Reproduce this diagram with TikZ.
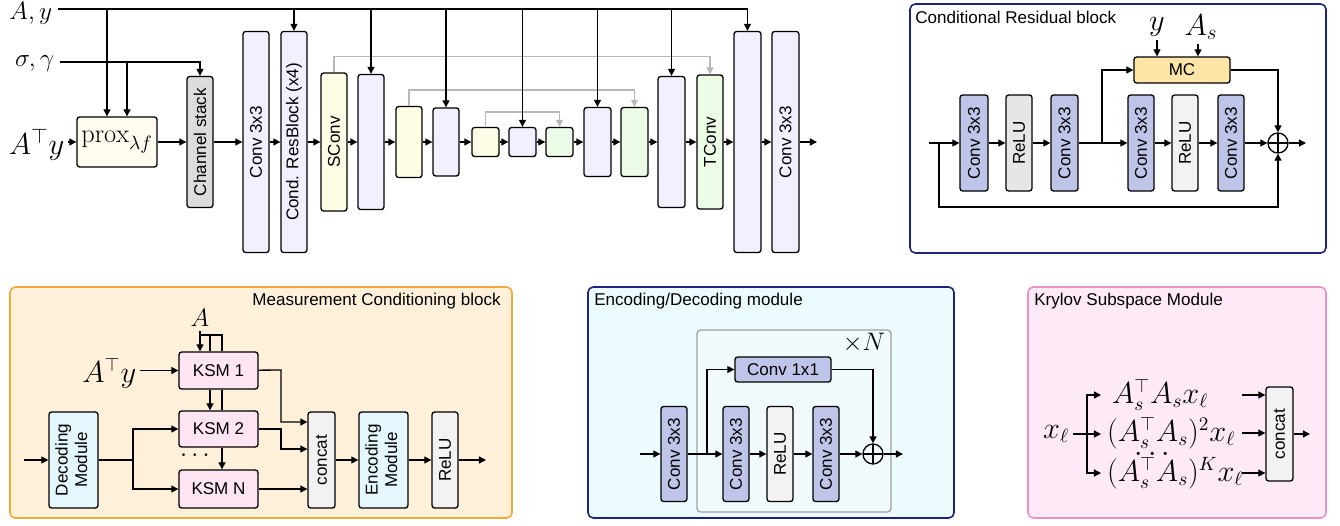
\documentclass[tikz,border=0pt]{standalone}
\usepackage{fontspec}
\setsansfont{Liberation Sans}
\usepackage{amsmath}
\usepackage{graphicx}
\usetikzlibrary{arrows.meta}

\definecolor{lav}{HTML}{F0F0FE}
\definecolor{cream}{HTML}{FDFDE6}
\definecolor{mint}{HTML}{EDFCE6}
\definecolor{proxfill}{HTML}{FFFBEE}
\definecolor{stackfill}{HTML}{DCDCDC}
\definecolor{convblue}{HTML}{BEC5E8}
\definecolor{relugray}{HTML}{E6E6E6}
\definecolor{relulight}{HTML}{F2F2F2}
\definecolor{mcfill}{HTML}{FCE5A6}
\definecolor{mcbg}{HTML}{FFF1D9}
\definecolor{mcedge}{HTML}{F2A93B}
\definecolor{navy}{HTML}{1C2380}
\definecolor{encbg}{HTML}{EBFBFE}
\definecolor{innerbg}{HTML}{F1FBFD}
\definecolor{innergray}{HTML}{A0A0A0}
\definecolor{cyanfill}{HTML}{E4F7FC}
\definecolor{ksmfill}{HTML}{FDE5F3}
\definecolor{krybg}{HTML}{FDEAF6}
\definecolor{kryedge}{HTML}{EE90C6}
\definecolor{skipgray}{HTML}{B8B8B8}

\newcommand{\blkfont}{\sffamily\fontsize{9.7}{11}\selectfont}
\newcommand{\lblfont}{\fontsize{15}{17}\selectfont}
\newcommand{\bigfont}{\fontsize{16.5}{19}\selectfont}
\newcommand{\kryfont}{\fontsize{16}{19}\selectfont}
\newcommand{\rotlabel}[1]{\rotatebox{90}{#1}}
\newcommand{\rottwo}[2]{\rotatebox{90}{\begin{tabular}{@{}c@{}}#1\\#2\end{tabular}}}

\tikzset{
  box/.style={draw, line width=0.75pt, rounded corners=1.5pt, inner sep=0pt, font=\blkfont},
  sz/.style 2 args={minimum width=#1*0.02cm, minimum height=#2*0.02cm},
  arr/.style={line width=0.75pt, -{Triangle[length=4pt,width=4pt]}},
  ln/.style={line width=0.75pt},
  skiparr/.style={line width=0.75pt, draw=skipgray, -{Triangle[length=4pt,width=4pt,fill=skipgray]}},
  panel/.style={line width=0.9pt, rounded corners=3pt, inner sep=0pt},
  mlab/.style={inner sep=2pt, font=\lblfont},
  ttl/.style={inner sep=0pt, font=\blkfont},
  oplus/.style={circle, draw, line width=0.75pt, inner sep=0pt, minimum size=20*0.02cm,
    path picture={\draw[line width=0.75pt] (path picture bounding box.north) -- (path picture bounding box.south)
      (path picture bounding box.west) -- (path picture bounding box.east);}},
}

\begin{document}
\begin{tikzpicture}[x=0.02cm,y=-0.02cm]
\useasboundingbox (0,0) rectangle (1340,525);

% Inputs of the unrolled network
\node[mlab, anchor=east] (ay) at (56,13) {$A,y$};
\node[mlab, anchor=east] (sg) at (58,64) {$\sigma,\gamma$};
\node[mlab, anchor=east, font=\bigfont] (aty) at (68,145) {$A^\top y$};
\coordinate (top) at (58,9);
\coordinate (sgl) at (60,62);

% Main chain
\node[box, fill=proxfill, sz={80}{50}, font=\lblfont] (prox) at (117,142) {$\mathrm{prox}_{\lambda f}$};
\node[box, fill=stackfill, sz={26}{131}] (chs) at (200,142) {\rotlabel{Channel stack}};
\node[box, fill=lav, sz={26}{221}] (cin) at (256,142) {\rotlabel{Conv 3x3}};
\node[box, fill=lav, sz={26}{221}] (resb) at (294,142) {\rotlabel{Cond. ResBlock (x4)}};
\node[box, fill=cream, sz={26}{138}] (sconv) at (334,142) {\rotlabel{SConv}};
\node[box, fill=lav, sz={26}{135}] (enc1) at (371,142) {};
\node[box, fill=cream, sz={26}{71}] (down2) at (409,142) {};
\node[box, fill=lav, sz={26}{68}] (enc2) at (446,142) {};
\node[box, fill=cream, sz={27}{29}] (down3) at (485.5,142) {};
\node[box, fill=lav, sz={27}{29}] (mid) at (522.5,142) {};
\node[box, fill=mint, sz={27}{29}] (up3) at (559.5,142) {};
\node[box, fill=lav, sz={27}{69}] (dec2) at (597.5,142) {};
\node[box, fill=mint, sz={27}{69}] (up2) at (634.5,142) {};
\node[box, fill=lav, sz={27}{131}] (dec1) at (671.5,142) {};
\node[box, fill=mint, sz={26}{134}] (tconv) at (710,142) {\rotlabel{TConv}};
\node[box, fill=lav, sz={27}{221}] (dec0) at (747.5,142) {};
\node[box, fill=lav, sz={27}{221}] (cout) at (785.5,142) {\rotlabel{Conv 3x3}};
\coordinate (out) at (817,142);

% Skip connections (grey, drawn first)
\draw[skiparr] (sconv.north) -- ++(0,-16) -| (tconv.north);
\draw[skiparr] (down2.north) -- ++(0,-16) -| (up2.north);
\draw[skiparr] (down3.north) -- ++(0,-15) -| (up3.north);

\draw[arr] (aty.east |- prox.west) -- (prox.west);
\foreach \a/\b in {prox/chs, chs/cin, cin/resb, resb/sconv, sconv/enc1, enc1/down2, down2/enc2,
  enc2/down3, down3/mid, mid/up3, up3/dec2, dec2/up2, up2/dec1, dec1/tconv, tconv/dec0, dec0/cout}
  \draw[arr] (\a) -- (\b);
\draw[arr] (cout) -- (out);

% A,y and sigma,gamma feeds
\coordinate (pa) at ([xshift=-0.2cm]prox.north);
\coordinate (pb) at ([xshift=0.2cm]prox.north);
\draw[arr] (top) -- (top -| dec0) -- (dec0.north);
\foreach \n in {resb, enc1, enc2, mid, dec2, dec1}
  \draw[arr] (top -| \n) -- (\n.north);
\draw[arr] (top -| pa) -- (pa);
\draw[arr] (sgl) -- (sgl -| chs) -- (chs.north);
\draw[arr] (sgl -| pb) -- (pb);

% Conditional residual block
\node[panel, draw=navy, fill=white, sz={416}{249}] (crb) at (1118,128.5) {};
\node[ttl, anchor=west] at (915,17) {Conditional Residual block};
\node[box, fill=convblue, sz={28}{96}] (rc1) at (974,143) {\rotlabel{Conv 3x3}};
\node[box, fill=relugray, sz={26}{96}] (rr1) at (1019,143) {\rotlabel{ReLU}};
\node[box, fill=convblue, sz={27}{96}] (rc2) at (1064.5,143) {\rotlabel{Conv 3x3}};
\node[box, fill=convblue, sz={26}{96}] (rc3) at (1141,143) {\rotlabel{Conv 3x3}};
\node[box, fill=relulight, sz={26}{96}] (rr2) at (1185,143) {\rotlabel{ReLU}};
\node[box, fill=convblue, sz={26}{96}] (rc4) at (1231,143) {\rotlabel{Conv 3x3}};
\node[box, fill=mcfill, sz={96}{26}] (mc) at (1182,70) {MC};
\node[oplus] (rsum) at (1278,143) {};
\node[mlab, font=\bigfont] (yin) at (1157,27) {$y$};
\node[mlab, font=\bigfont] (asin) at (1201,27) {$A_s$};
\coordinate (rin) at (929,143);
\coordinate (rskip) at (939,143);
\coordinate (rbr) at (1102,143);
\coordinate (rout) at (1306,143);
\draw[arr] (rin) -- (rc1);
\foreach \a/\b in {rc1/rr1, rr1/rc2, rc2/rc3, rc3/rr2, rr2/rc4, rc4/rsum}
  \draw[arr] (\a) -- (\b);
\draw[arr] (rsum) -- (rout);
\draw[arr] (rbr) |- (mc);
\draw[arr] (mc) -| (rsum);
\draw[arr] (rskip) -- ++(0,64) -| (rsum.south);
\draw[arr] (yin) -- (yin |- mc.north);
\draw[arr] ([xshift=-0.06cm]asin.south) -- ([xshift=-0.06cm]asin.south |- mc.north);

% Measurement conditioning block
\node[panel, draw=mcedge, fill=mcbg, sz={502}{231}] (mcb) at (261,402.5) {};
\node[ttl, anchor=east] at (501,301) {Measurement Conditioning block};
\node[box, fill=cyanfill, sz={49}{96}] (decm) at (73.5,460) {\rottwo{Decoding}{Module}};
\node[box, fill=ksmfill, sz={79}{37}] (ksm1) at (218.5,370.5) {KSM 1};
\node[box, fill=ksmfill, sz={79}{36}] (ksm2) at (218.5,429) {KSM 2};
\node[box, fill=ksmfill, sz={79}{38}] (ksmn) at (218.5,489) {KSM N};
\node[box, fill=relulight, sz={27}{96}] (cat) at (321.5,460) {\rotlabel{concat}};
\node[box, fill=cyanfill, sz={49}{96}] (encm) at (383.5,460) {\rottwo{Encoding}{Module}};
\node[box, fill=relulight, sz={26}{96}] (mrelu) at (445,460) {\rotlabel{ReLU}};
\node[mlab, anchor=east, font=\kryfont] (aty2) at (140,373) {$A^\top y$};
\node[mlab] (amat) at (200,318) {$A$};
\node[mlab] (kdots1) at (197,456) {$\cdots$};
\coordinate (ka) at (210,335);
\coordinate (kb) at (222,335);
\coordinate (min) at (24,460);
\coordinate (mbr) at (133,460);
\coordinate (kx) at (281,370);
\coordinate (mout) at (486,460);
\draw[arr] (min) -- (decm);
\draw[ln] (decm) -- (mbr);
\draw[arr] (mbr) |- (ksm2);
\draw[arr] (mbr) |- (ksmn);
\draw[arr] (aty2.east |- ksm1) -- (ksm1);
\draw[arr] (amat) -- (amat |- ksm1.north);
\draw[ln] (amat.south |- kb) -- (kb) -- (kb |- ksm1.north);
\draw[ln] (ka) -- (ka |- ksm1.north);
\draw[arr] (ka |- ksm1.south) -- (ka |- ksm2.north);
\draw[ln] (kb |- ksm1.south) -- (kb |- ksm2.north);
\draw[arr] (kb |- ksm2.south) -- (kb |- ksmn.north);
\draw[arr] (ksm1) -- (kx) |- ([yshift=0.76cm]cat.west);
\draw[arr] (ksm2) -- (kx |- ksm2) |- ([yshift=0.22cm]cat.west);
\draw[arr] (ksmn) -- (ksmn -| cat.west);
\draw[arr] (cat) -- (encm);
\draw[arr] (encm) -- (mrelu);
\draw[arr] (mrelu) -- (mout);

% Encoding / decoding module
\node[panel, draw=navy, fill=encbg, sz={366}{231}] (edb) at (771,402.5) {};
\node[ttl, anchor=west] at (594,301) {Encoding/Decoding module};
\node[draw=innergray, fill=innerbg, line width=0.75pt, rounded corners=2pt, sz={194}{182}] (rep) at (794,421) {};
\node[mlab] (times) at (864,343) {$\times N$};
\node[box, fill=convblue, sz={26}{95}] (ec0) at (674,454) {\rotlabel{Conv 3x3}};
\node[box, fill=convblue, sz={26}{95}] (ec1) at (736,454) {\rotlabel{Conv 3x3}};
\node[box, fill=relulight, sz={26}{95}] (er) at (780,454) {\rotlabel{ReLU}};
\node[box, fill=convblue, sz={26}{95}] (ec2) at (826,454) {\rotlabel{Conv 3x3}};
\node[box, fill=convblue, sz={96}{25}] (e11) at (783,369.5) {Conv 1x1};
\node[oplus] (esum) at (873,454) {};
\coordinate (ein) at (640,454);
\coordinate (ebr) at (707,454);
\coordinate (eout) at (903,454);
\draw[arr] (ein) -- (ec0);
\foreach \a/\b in {ec0/ec1, ec1/er, er/ec2, ec2/esum}
  \draw[arr] (\a) -- (\b);
\draw[arr] (ebr) |- (e11);
\draw[arr] (e11) -| (esum);
\draw[arr] (esum) -- (eout);

% Krylov subspace module
\node[panel, draw=kryedge, fill=krybg, sz={298}{231}] (kry) at (1177,402.5) {};
\node[ttl, anchor=west] at (1034,301) {Krylov Subspace Module};
\node[mlab, font=\kryfont] (xl) at (1056,434) {$x_\ell$};
\node[mlab, anchor=west, font=\kryfont, inner sep=1pt] (kr1) at (1110,395) {$A_s^\top A_s x_\ell$};
\node[mlab, anchor=west, font=\kryfont, inner sep=1pt] (kr2) at (1105,433) {$(A_s^\top A_s)^2 x_\ell$};
\node[mlab, anchor=west, font=\kryfont, inner sep=1pt] (krk) at (1105,473) {$(A_s^\top A_s)^K x_\ell$};
\node[inner sep=0pt, font=\kryfont] (kdots2) at (1155,455) {$\cdots$};
\node[box, fill=relulight, sz={27}{94}] (kcat) at (1279.5,434) {\rotlabel{concat}};
\coordinate (kbr) at (1087,434);
\coordinate (kin) at (1101,434);
\coordinate (kro) at (1242,434);
\coordinate (kout) at (1310,434);
\draw[ln] (xl) -- (kbr);
\draw[arr] (kbr) -- (kin);
\draw[arr] (kbr) |- (kin |- kr1.west);
\draw[arr] (kbr) |- (kin |- krk.west);
\foreach \k in {kr1, kr2, krk}
  \draw[arr] (kro |- \k.west) -- (kcat.west |- \k.west);
\draw[arr] (kcat) -- (kout);

\end{tikzpicture}
\end{document}
